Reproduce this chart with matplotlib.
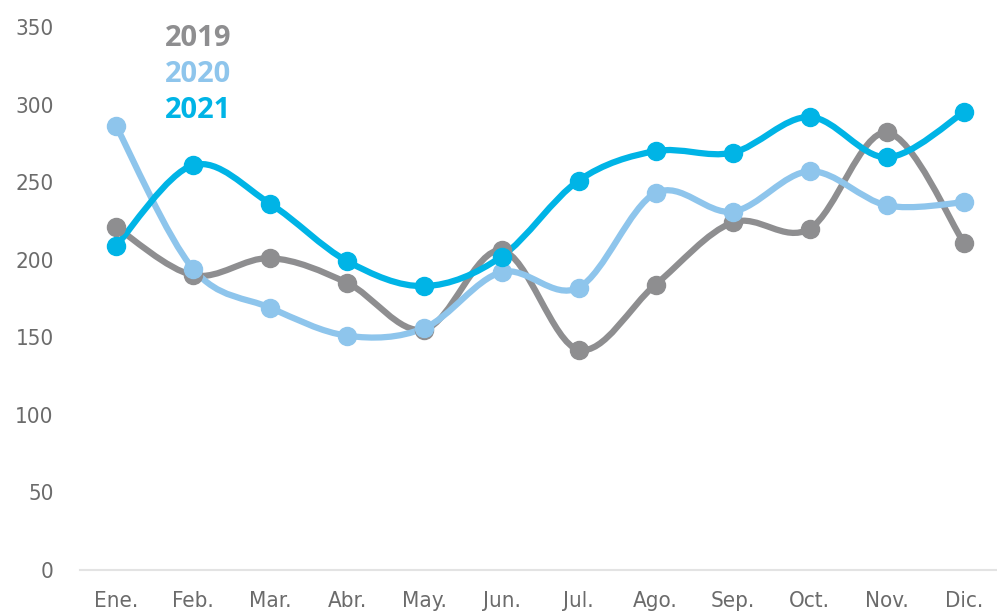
import matplotlib
matplotlib.use("Agg")
import matplotlib.pyplot as plt
from matplotlib.path import Path
from matplotlib.patches import PathPatch

months = ["Ene.", "Feb.", "Mar.", "Abr.", "May.", "Jun.", "Jul.", "Ago.", "Sep.", "Oct.", "Nov.", "Dic."]
v2019 = [221, 190, 201, 185, 155, 206, 142, 184, 224, 220, 282, 211]
v2020 = [286, 194, 169, 151, 156, 192, 182, 243, 231, 257, 235, 237]
v2021 = [209, 261, 236, 199, 183, 202, 251, 270, 269, 292, 266, 295]
years = ["2019", "2020", "2021"]
colors = ["#8e8e90", "#8ec5ec", "#00b4e6"]


def smooth_path(xs, ys, t=1 / 6):
    # catmull-rom style bezier segments through the points
    verts = [(xs[0], ys[0])]
    codes = [Path.MOVETO]
    n = len(xs)
    for i in range(n - 1):
        x0, y0 = (xs[i - 1], ys[i - 1]) if i > 0 else (xs[i], ys[i])
        x1, y1 = xs[i], ys[i]
        x2, y2 = xs[i + 1], ys[i + 1]
        x3, y3 = (xs[i + 2], ys[i + 2]) if i + 2 < n else (x2, y2)
        c1 = (x1 + (x2 - x0) * t, y1 + (y2 - y0) * t)
        c2 = (x2 - (x3 - x1) * t, y2 - (y3 - y1) * t)
        verts += [c1, c2, (x2, y2)]
        codes += [Path.CURVE4] * 3
    return Path(verts, codes)


fig = plt.figure(figsize=(9.97, 6.16), dpi=100)
ax = fig.add_axes([80 / 997, 46 / 616, 917 / 997, 543 / 616])

x = list(range(len(months)))
for vals, c in zip([v2019, v2020, v2021], colors):
    ax.add_patch(PathPatch(smooth_path(x, vals), facecolor="none", edgecolor=c,
                           lw=4.5, capstyle="round", clip_on=False))
    ax.plot(x, vals, "o", color=c, ms=13, clip_on=False, zorder=3)

ax.set_xlim(-0.47, 11.43)
ax.set_ylim(0, 350)
ax.set_yticks(range(0, 351, 50))
ax.set_xticks(x)
ax.set_xticklabels(months)

for s in ["top", "right", "left"]:
    ax.spines[s].set_visible(False)
ax.spines["bottom"].set_color("#e3e3e3")
ax.spines["bottom"].set_linewidth(1.5)
ax.tick_params(length=0, colors="#6b6b6b", labelsize=16)
ax.tick_params(axis="y", pad=19)
ax.tick_params(axis="x", pad=15)
for lab in ax.get_xticklabels() + ax.get_yticklabels():
    lab.set_family("DejaVu Sans")
    lab.set_stretch("condensed")

for i, (yr, c) in enumerate(zip(years, colors)):
    fig.text(165 / 997, 1 - (38 + i * 36) / 616, yr, color=c, fontsize=21,
             fontweight="bold", family=["Open Sans", "DejaVu Sans"], va="center", ha="left")

fig.savefig("out.png", dpi=100)
